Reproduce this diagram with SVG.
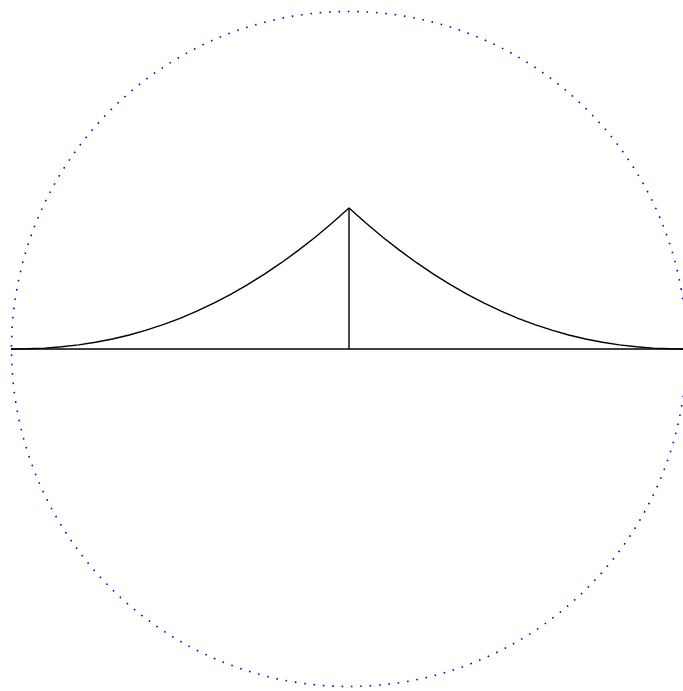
<svg xmlns="http://www.w3.org/2000/svg" width="683" height="691" viewBox="0 0 683 691">
  <style>
    .horizon { fill: none; stroke: #0000ff; stroke-width: 1.6; stroke-dasharray: 1.6 7.8; }
    .line { fill: none; stroke: #000000; stroke-width: 1.4; stroke-linejoin: round; }
  </style>
  <rect width="683" height="691" fill="#ffffff"/>
  <g id="horizon">
    <circle class="horizon" cx="349" cy="349" r="337.5"/>
  </g>
  <g id="connectors">
    <line class="line" x1="11" y1="349" x2="683" y2="349"/>
    <line class="line" x1="349" y1="208" x2="349" y2="349"/>
    <polyline class="line" points="11,349 27.9,348.8 44.8,348.1 61.7,346.8 78.6,344.9 95.5,342.3 112.4,339 129.3,335 146.2,330.2 163.1,324.7 180,318.3 196.9,311.2 213.8,303.2 230.7,294.4 247.6,284.7 264.5,274.1 281.4,262.7 298.3,250.4 315.2,237.2 332.1,223 349,208 365.9,223 382.8,237.2 399.7,250.4 416.6,262.7 433.5,274.1 450.4,284.7 467.3,294.4 484.2,303.2 501.1,311.2 518,318.3 534.9,324.7 551.8,330.2 568.7,335 585.6,339 602.5,342.3 619.4,344.9 636.3,346.8 653.2,348.1 670.1,348.8 687,349"/>
  </g>
</svg>
